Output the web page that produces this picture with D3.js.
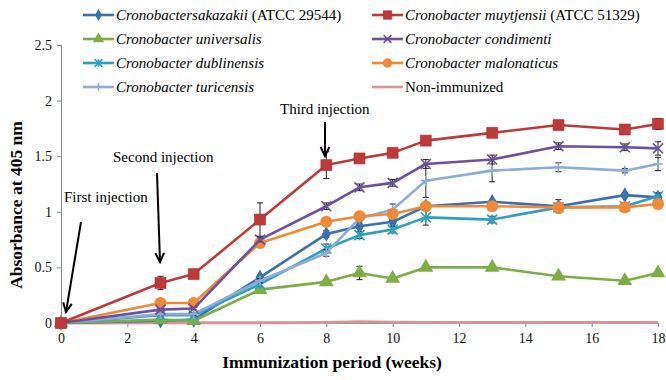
<!DOCTYPE html>
<html>
<head>
<meta charset="utf-8">
<script src="https://cdn.jsdelivr.net/npm/d3@7"></script>
<style>
  body { margin: 0; background: #fff; }
  text { font-family: "Liberation Serif", "Times New Roman", serif; }
</style>
</head>
<body>
<div id="chart"></div>
<script>
// weeks where the mice were sampled
var weeks = [0, 3, 4, 6, 8, 9, 10, 11, 13, 15, 17, 18];

// absorbance values
var sakazakii   = [0, 0.02, 0.03, 0.41, 0.80, 0.87, 0.91, 1.05, 1.09, 1.05, 1.15, 1.13];
var muytjensii  = [0, 0.36, 0.44, 0.93, 1.42, 1.48, 1.53, 1.64, 1.71, 1.78, 1.74, 1.79];
var universalis = [0, 0.03, 0.02, 0.30, 0.37, 0.45, 0.40, 0.50, 0.50, 0.42, 0.38, 0.45];
var condimenti  = [0, 0.12, 0.13, 0.75, 1.05, 1.22, 1.26, 1.43, 1.47, 1.59, 1.58, 1.57];
var dublinensis = [0, 0.07, 0.07, 0.35, 0.67, 0.79, 0.84, 0.95, 0.93, 1.04, 1.05, 1.14];
var malonaticus = [0, 0.18, 0.18, 0.72, 0.91, 0.96, 0.98, 1.05, 1.05, 1.04, 1.04, 1.07];
var turicensis  = [0, 0.08, 0.08, 0.38, 0.63, 0.94, 1.02, 1.28, 1.37, 1.40, 1.37, 1.43];
var nonImmun    = [0, 0.003, 0.003, 0.003, 0.005, 0.012, 0.006, 0.004, 0.005, 0.004, 0.004, 0.004];

// standard deviations (error bars)
var errSakazakii   = [0, 0.01, 0.01, 0.02, 0.03, 0.02, 0.02, 0.02, 0.02, 0.06, 0.02, 0.02];
var errMuytjensii  = [0, 0.06, 0.02, 0.15, 0.12, 0.02, 0.04, 0.02, 0.02, 0.02, 0.02, 0.05];
var errUniversalis = [0, 0.01, 0.01, 0.02, 0.02, 0.06, 0.02, 0.02, 0.02, 0.02, 0.02, 0.02];
var errCondimenti  = [0, 0.01, 0.01, 0.02, 0.03, 0.03, 0.03, 0.04, 0.04, 0.03, 0.03, 0.06];
var errDublinensis = [0, 0.01, 0.01, 0.02, 0.04, 0.03, 0.03, 0.07, 0.03, 0.03, 0.03, 0.03];
var errMalonaticus = [0, 0.01, 0.01, 0.02, 0.02, 0.02, 0.02, 0.02, 0.02, 0.02, 0.02, 0.02];
var errTuricensis  = [0, 0.01, 0.01, 0.02, 0.03, 0.03, 0.05, 0.15, 0.1, 0.04, 0.02, 0.06];
var errNon         = [0, 0, 0, 0, 0, 0, 0, 0, 0, 0, 0, 0];

var yTicks = [0, 0.5, 1, 1.5, 2, 2.5];
var xTicks = [0, 2, 4, 6, 8, 10, 12, 14, 16, 18];

var series = [
  {name: "Cronobactersakazakii", suffix: " (ATCC 29544)", values: sakazakii, err: errSakazakii, color: "#3b70b0", marker: "diamond"},
  {name: "Cronobacter muytjensii", suffix: " (ATCC 51329)", values: muytjensii, err: errMuytjensii, color: "#be3a3a", marker: "square"},
  {name: "Cronobacter universalis", suffix: "", values: universalis, err: errUniversalis, color: "#7dae45", marker: "triangle"},
  {name: "Cronobacter condimenti", suffix: "", values: condimenti, err: errCondimenti, color: "#6e4f9c", marker: "x"},
  {name: "Cronobacter dublinensis", suffix: "", values: dublinensis, err: errDublinensis, color: "#2f9fc0", marker: "star"},
  {name: "Cronobacter malonaticus", suffix: "", values: malonaticus, err: errMalonaticus, color: "#f0883a", marker: "circle"},
  {name: "Cronobacter turicensis", suffix: "", values: turicensis, err: errTuricensis, color: "#8cadd6", marker: "plus"},
  {name: "Non-immunized", suffix: "", values: nonImmun, err: errNon, color: "#d99596", marker: "none", plain: true}
];

var W = 666, H = 380;
var svg = d3.select("#chart").append("svg")
  .attr("width", W).attr("height", H);

var x = d3.scaleLinear().domain([0, 18]).range([61, 658]);
var y = d3.scaleLinear().domain([0, 2.5]).range([323, 45]);

// y axis
var yAxis = svg.append("g")
  .attr("transform", "translate(" + x(0) + ",0)")
  .call(d3.axisLeft(y).tickValues(yTicks).tickSize(4).tickPadding(5)
    .tickFormat(function(d) { return String(d); }));
yAxis.selectAll("path, line").attr("stroke", "#888");
yAxis.selectAll("text").style("font-size", "14px").attr("fill", "#111")
  .style("font-family", "Liberation Serif");

// x axis
var xAxis = svg.append("g")
  .attr("transform", "translate(0," + y(0) + ")")
  .call(d3.axisBottom(x).tickValues(xTicks).tickSize(4).tickPadding(6)
    .tickFormat(function(d) { return String(d); }));
xAxis.selectAll("path, line").attr("stroke", "#888");
xAxis.selectAll("text").style("font-size", "14px").attr("fill", "#111")
  .style("font-family", "Liberation Serif");

// axis titles
svg.append("text")
  .attr("x", 332).attr("y", 368)
  .attr("text-anchor", "middle")
  .style("font-size", "17.5px").style("font-weight", "bold")
  .text("Immunization period (weeks)");

svg.append("text")
  .attr("transform", "translate(22,205) rotate(-90)")
  .attr("text-anchor", "middle")
  .style("font-size", "17.5px").style("font-weight", "bold")
  .text("Absorbance at 405 nm");

// marker drawing
function drawMarker(g, type, color, s) {
  s = s || 1;
  if (type == "diamond") {
    g.append("path").attr("d", d3.symbol(d3.symbolDiamond, 70 * s)()).attr("fill", color);
  } else if (type == "square") {
    g.append("path").attr("d", d3.symbol(d3.symbolSquare, 120 * s)()).attr("fill", color)
      .attr("stroke", "#a02e2e").attr("stroke-width", 0.6);
  } else if (type == "triangle") {
    g.append("path").attr("d", d3.symbol(d3.symbolTriangle, 95 * s)()).attr("fill", color);
  } else if (type == "circle") {
    g.append("path").attr("d", d3.symbol(d3.symbolCircle, 115 * s)()).attr("fill", color);
  } else if (type == "x") {
    var r = 5 * Math.sqrt(s);
    g.append("path").attr("d", "M" + (-r) + "," + (-r) + "L" + r + "," + r + "M" + (-r) + "," + r + "L" + r + "," + (-r))
      .attr("stroke", color).attr("stroke-width", 1.6).attr("fill", "none");
  } else if (type == "star") {
    var r2 = 5 * Math.sqrt(s);
    g.append("path").attr("d", "M" + (-r2) + "," + (-r2) + "L" + r2 + "," + r2 + "M" + (-r2) + "," + r2 + "L" + r2 + "," + (-r2) + "M0," + (-r2) + "L0," + r2)
      .attr("stroke", color).attr("stroke-width", 1.6).attr("fill", "none");
  } else if (type == "plus") {
    var r3 = 5 * Math.sqrt(s);
    g.append("path").attr("d", "M" + (-r3) + ",0L" + r3 + ",0M0," + (-r3) + "L0," + r3)
      .attr("stroke", color).attr("stroke-width", 1.6).attr("fill", "none");
  }
}

var line = d3.line()
  .x(function(d) { return x(d.w); })
  .y(function(d) { return y(d.v); });

// draw series, non-immunized first so it sits under the rest
var order = [7, 0, 2, 4, 6, 5, 3, 1];
order.forEach(function(i) {
  var s = series[i];
  var pts = weeks.map(function(w, j) { return {w: w, v: s.values[j], e: s.err[j]}; });
  var g = svg.append("g");

  // error bars
  pts.forEach(function(p) {
    if (p.e <= 0) return;
    var eb = g.append("g").attr("stroke", "#222").attr("stroke-width", 1);
    eb.append("line").attr("x1", x(p.w)).attr("x2", x(p.w)).attr("y1", y(p.v - p.e)).attr("y2", y(p.v + p.e));
    eb.append("line").attr("x1", x(p.w) - 3).attr("x2", x(p.w) + 3).attr("y1", y(p.v - p.e)).attr("y2", y(p.v - p.e));
    eb.append("line").attr("x1", x(p.w) - 3).attr("x2", x(p.w) + 3).attr("y1", y(p.v + p.e)).attr("y2", y(p.v + p.e));
  });

  g.append("path").datum(pts)
    .attr("d", line)
    .attr("fill", "none")
    .attr("stroke", s.color)
    .attr("stroke-width", s.plain ? 3 : 2.6)
    .attr("stroke-linejoin", "round");

  pts.forEach(function(p) {
    var m = g.append("g").attr("transform", "translate(" + x(p.w) + "," + y(p.v) + ")");
    drawMarker(m, s.marker, s.color);
  });
});

// injection annotations
function arrow(x1, y1, x2, y2) {
  svg.append("line").attr("x1", x1).attr("y1", y1).attr("x2", x2).attr("y2", y2)
    .attr("stroke", "#000").attr("stroke-width", 2);
  var ang = Math.atan2(y2 - y1, x2 - x1);
  var L = 10, a = 0.45;
  var p1 = [x2 - L * Math.cos(ang - a), y2 - L * Math.sin(ang - a)];
  var p2 = [x2 - L * Math.cos(ang + a), y2 - L * Math.sin(ang + a)];
  svg.append("path")
    .attr("d", "M" + p1[0] + "," + p1[1] + "L" + x2 + "," + y2 + "L" + p2[0] + "," + p2[1])
    .attr("stroke", "#000").attr("stroke-width", 2).attr("fill", "none");
}

svg.append("text").attr("x", 64).attr("y", 202).style("font-size", "15px").text("First injection");
arrow(81, 222, 66, 312);
svg.append("text").attr("x", 113).attr("y", 162).style("font-size", "15px").text("Second injection");
arrow(157, 173, 160, 262);
svg.append("text").attr("x", 280).attr("y", 114).style("font-size", "15px").text("Third injection");
arrow(325, 122, 325, 156);

// legend
var legendRows = [15, 39, 63, 87];
series.forEach(function(s, i) {
  var col = i % 2, row = Math.floor(i / 2);
  var lx = col == 0 ? 83 : 372;
  var ly = legendRows[row];
  var g = svg.append("g");
  g.append("line").attr("x1", lx).attr("x2", lx + 31).attr("y1", ly).attr("y2", ly)
    .attr("stroke", s.color).attr("stroke-width", 2.6);
  var m = g.append("g").attr("transform", "translate(" + (lx + 15.5) + "," + ly + ")");
  drawMarker(m, s.marker, s.color, 0.6);
  var t = g.append("text").attr("x", lx + 33).attr("y", ly + 5).style("font-size", "15px");
  if (s.plain) {
    t.text(s.name);
  } else {
    t.append("tspan").style("font-style", "italic").text(s.name);
    if (s.suffix) t.append("tspan").text(s.suffix);
  }
});
</script>
</body>
</html>
